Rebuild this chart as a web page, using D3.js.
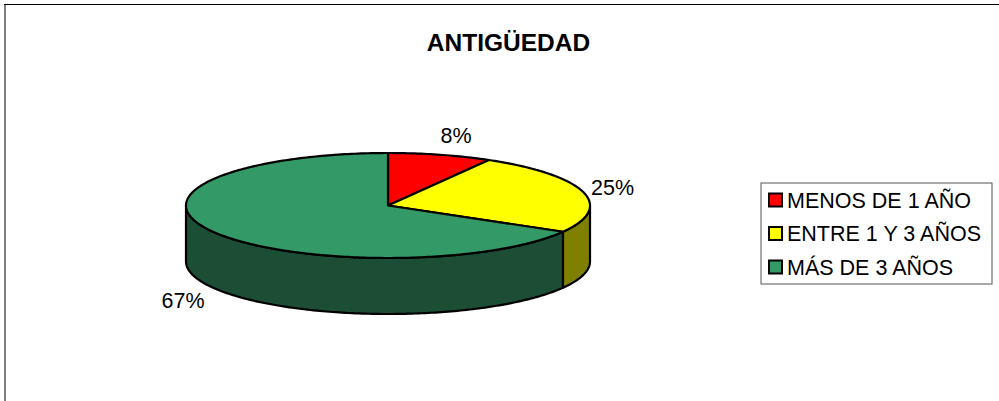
<!DOCTYPE html>
<html lang="en">
<head>
    <meta charset="UTF-8">
    <title>ANTIGÜEDAD</title>
    <script src="https://d3js.org/d3.v7.min.js"></script>
    <style>
        html, body { margin: 0; padding: 0; background: #fff; overflow: hidden; }
        svg { display: block; font-family: "Liberation Sans", Arial, sans-serif; }
    </style>
</head>
<body>
    <script>
        let categories = ["MENOS DE 1 AÑO", "ENTRE 1 Y 3 AÑOS", "MÁS DE 3 AÑOS"];
        let values = [8.33, 25, 66.67];
        let labels = ["8%", "25%", "67%"];
        let topColors = ["#ff0000", "#ffff00", "#339966"];
        let sideColors = ["#800000", "#808000", "#1c4d35"];

        let width = 999;
        let height = 401;
        let cx = 388;
        let cy = 205.5;
        let rx = 202;
        let ry = 52.5;
        let depth = 56;

        let svg = d3.select("body").append("svg")
            .attr("width", width)
            .attr("height", height);

        svg.append("rect")
            .attr("width", width)
            .attr("height", height)
            .attr("fill", "#fff");

        // chart frame, only top and left edges are in the picture
        svg.append("line").attr("x1", 5).attr("x2", 5).attr("y1", 4).attr("y2", height)
            .attr("stroke", "#808080").attr("stroke-width", 2);
        svg.append("line").attr("x1", 4).attr("x2", width).attr("y1", 4.5).attr("y2", 4.5)
            .attr("stroke", "#000").attr("stroke-width", 1);

        svg.append("text")
            .attr("x", 508.5)
            .attr("y", 51)
            .attr("text-anchor", "middle")
            .style("font-size", "24.5px")
            .style("font-weight", "bold")
            .text("ANTIGÜEDAD");

        let slices = d3.pie().sort(null)(values);

        // angle 0 is up, clockwise, squashed to an ellipse
        let px = a => cx + rx * Math.sin(a);
        let py = a => cy - ry * Math.cos(a);

        let line = d3.line();

        function arcPoints(a0, a1, dy) {
            let n = Math.max(2, Math.ceil(Math.abs(a1 - a0) * 60));
            return d3.range(n + 1).map(i => {
                let a = a0 + (a1 - a0) * i / n;
                return [px(a), py(a) + dy];
            });
        }

        // side wall, only the part of the rim facing the viewer
        slices.forEach((s, i) => {
            let a0 = Math.max(s.startAngle, Math.PI / 2);
            let a1 = Math.min(s.endAngle, Math.PI * 3 / 2);
            if (a1 <= a0) return;
            let pts = arcPoints(a0, a1, 0).concat(arcPoints(a1, a0, depth));
            svg.append("path")
                .attr("d", line(pts) + "Z")
                .attr("fill", sideColors[i])
                .attr("stroke", "#000")
                .attr("stroke-width", 2.2)
                .attr("stroke-linejoin", "round");
        });

        svg.selectAll("path.top")
            .data(slices)
            .enter().append("path")
            .attr("class", "top")
            .attr("d", s => line([[cx, cy]].concat(arcPoints(s.startAngle, s.endAngle, 0))) + "Z")
            .attr("fill", (s, i) => topColors[i])
            .attr("stroke", "#000")
            .attr("stroke-width", 2.2)
            .attr("stroke-linejoin", "round");

        let labelPos = [[456, 143], [612.5, 195], [183, 308]];
        svg.selectAll("text.pct")
            .data(labels)
            .enter().append("text")
            .attr("class", "pct")
            .attr("x", (d, i) => labelPos[i][0])
            .attr("y", (d, i) => labelPos[i][1])
            .attr("text-anchor", "middle")
            .style("font-size", "21.5px")
            .text(d => d);

        // legend
        svg.append("rect")
            .attr("x", 761)
            .attr("y", 183)
            .attr("width", 231)
            .attr("height", 101)
            .attr("fill", "#fff")
            .attr("stroke", "#555")
            .attr("stroke-width", 1);

        let legendY = d3.scalePoint().domain(categories).range([200, 267]);

        let items = svg.selectAll("g.item")
            .data(categories)
            .enter().append("g")
            .attr("class", "item")
            .attr("transform", d => `translate(768,${legendY(d)})`);

        items.append("rect")
            .attr("x", 1)
            .attr("y", -6.5)
            .attr("width", 13)
            .attr("height", 13)
            .attr("fill", (d, i) => topColors[i])
            .attr("stroke", "#000")
            .attr("stroke-width", 2);

        items.append("text")
            .attr("x", 19)
            .attr("y", 7.5)
            .style("font-size", "21.5px")
            .text(d => d);
    </script>
</body>
</html>
